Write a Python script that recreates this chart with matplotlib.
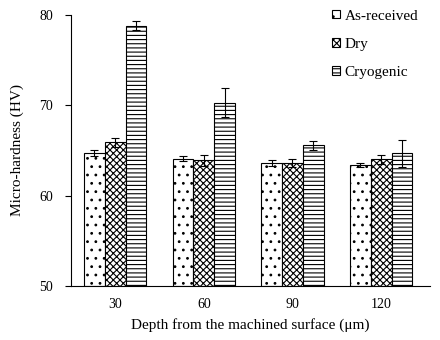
import numpy as np
import matplotlib
matplotlib.use("Agg")
import matplotlib.pyplot as plt

depths = ["30", "60", "90", "120"]
series = ["As-received", "Dry", "Cryogenic"]
as_received = [64.7, 64.1, 63.6, 63.4]
dry = [65.9, 63.9, 63.6, 64.0]
cryogenic = [78.8, 70.3, 65.6, 64.7]
as_received_err = [0.3, 0.3, 0.3, 0.2]
dry_err = [0.5, 0.6, 0.4, 0.5]
cryogenic_err = [0.5, 1.6, 0.5, 1.5]

plt.rcParams["font.family"] = ["Liberation Serif", "DejaVu Serif"]
plt.rcParams["hatch.linewidth"] = 0.8

fig, ax = plt.subplots(figsize=(4.4, 3.4), dpi=100)

x = np.arange(len(depths))
w = 0.235
hatches = ["..", "xxxxx", "----"]
vals = [as_received, dry, cryogenic]
errs = [as_received_err, dry_err, cryogenic_err]
for i, (lab, v, e, h) in enumerate(zip(series, vals, errs, hatches)):
    ax.bar(x + (i - 1) * w, np.array(v) - 50, w, bottom=50, yerr=e,
           color="white", edgecolor="black", hatch=h, linewidth=0.8,
           label=lab, capsize=3, error_kw=dict(elinewidth=0.8, capthick=0.8))

ax.set_xlim(-0.5, 3.55)
ax.set_ylim(50, 80)
ax.set_yticks([50, 60, 70, 80])
ax.set_xticks(x)
ax.set_xticklabels(depths)
ax.tick_params(axis="x", length=0, labelsize=10, pad=9)
ax.tick_params(axis="y", labelsize=10, length=4, direction="out", pad=9)
ax.spines["top"].set_visible(False)
ax.spines["right"].set_visible(False)
ax.set_xlabel("Depth from the machined surface (\u03bcm)", fontsize=11, labelpad=5)
ax.set_ylabel("Micro-hardness (HV)", fontsize=11)
ax.yaxis.set_label_coords(-0.13, 0.5)

ax.legend(loc="upper left", frameon=False, fontsize=11, handlelength=0.5,
          handleheight=0.5, handletextpad=0.3, labelspacing=1.0,
          borderpad=0, borderaxespad=0, bbox_to_anchor=(0.728, 1.02))

plt.subplots_adjust(left=0.161, right=0.977, top=0.956, bottom=0.159)
fig.savefig("out.png", dpi=100)
